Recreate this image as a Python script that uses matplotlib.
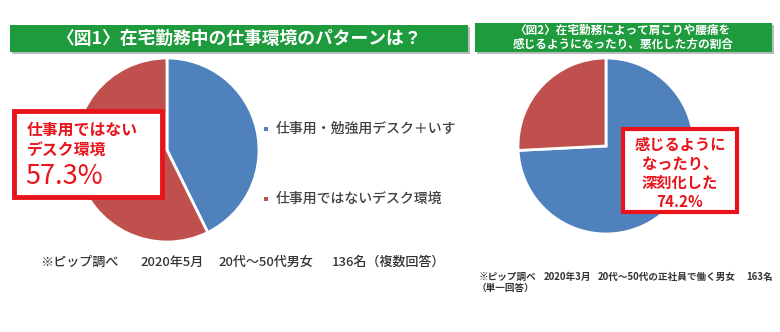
import matplotlib
matplotlib.use("Agg")
import matplotlib.pyplot as plt
from matplotlib.patches import Rectangle

plt.rcParams['font.family'] = ['Noto Sans CJK JP', 'DejaVu Sans']

# data
fig1_labels = ["仕事用・勉強用デスク＋いす", "仕事用ではないデスク環境"]
fig1_values = [42.7, 57.3]
fig2_labels = ["感じるようになったり、深刻化した", "その他"]
fig2_values = [74.2, 25.8]

fig1_title = "〈図1〉在宅勤務中の仕事環境のパターンは？"
fig2_title = "〈図2〉在宅勤務によって肩こりや腰痛を\n感じるようになったり、悪化した方の割合"
fig1_note = ["※ピップ調べ", "2020年5月", "20代～50代男女", "136名（複数回答）"]
fig2_note = ["※ピップ調べ", "2020年3月", "20代～50代の正社員で働く男女", "163名"]
fig2_note2 = "（単一回答）"

blue = "#4F81BD"
red = "#C0504D"
green = "#1E9B3C"
box_red = "#E8141C"

W, H = 780, 332
fig = plt.figure(figsize=(W / 100, H / 100), dpi=100)
fig.patch.set_facecolor("white")


def px_box(x0, y0, x1, y1):
    # pixel box (top-left origin) -> figure fractions
    return [x0 / W, 1 - y1 / H, (x1 - x0) / W, (y1 - y0) / H]


def rect(x0, y0, x1, y1, **kw):
    l, b, w, h = px_box(x0, y0, x1, y1)
    r = Rectangle((l, b), w, h, transform=fig.transFigure, **kw)
    fig.patches.append(r)


def txt(x, y, s, **kw):
    fig.text(x / W, 1 - y / H, s, **kw)


#title bars
rect(12, 27, 470, 54, facecolor="#bbbbbb", edgecolor="none")
rect(10, 25, 468, 52, facecolor=green, edgecolor="none")
txt(239, 39, fig1_title, color="white", fontsize=12.8, fontweight="bold", ha="center", va="center")

rect(477, 25, 774, 54, facecolor="#bbbbbb", edgecolor="none")
rect(475, 23, 772, 52, facecolor=green, edgecolor="none")
txt(623, 37.5, fig2_title, color="white", fontsize=8.4, fontweight="bold", ha="center", va="center",
    linespacing=1.15)

#pie 1
ax1 = fig.add_axes(px_box(75, 58, 259, 242))
ax1.pie(fig1_values, colors=[blue, red], startangle=90, counterclock=False,
        wedgeprops=dict(edgecolor="white", linewidth=2))
ax1.set_xlim(-1.0, 1.0)
ax1.set_ylim(-1.0, 1.0)
ax1.set_axis_off()

#pie 2
ax2 = fig.add_axes(px_box(518, 58, 694, 234))
ax2.pie(fig2_values, colors=[blue, red], startangle=90, counterclock=False,
        wedgeprops=dict(edgecolor="white", linewidth=2))
ax2.set_xlim(-1.0, 1.0)
ax2.set_ylim(-1.0, 1.0)
ax2.set_axis_off()

#legend for figure 1
for i, (lab, col) in enumerate(zip(fig1_labels, [blue, red])):
    y = 129 + i * 70
    rect(264, y - 2, 268, y + 2, facecolor=col, edgecolor="none")
    txt(276, y, lab, color="#404040", fontsize=10, fontweight="medium", va="center")

#annotation box 1
rect(14, 111, 162, 197, facecolor="white", edgecolor=box_red, linewidth=3.5)
txt(27, 130, "仕事用ではない", color=box_red, fontsize=11.4, fontweight="bold", va="center")
txt(27, 150, "デスク環境", color=box_red, fontsize=11.4, fontweight="bold", va="center")
txt(25, 177, "{:.1f}%".format(fig1_values[1]), color=box_red, fontsize=19.5, va="center")

#annotation box 2
rect(623, 129, 737, 212, facecolor="white", edgecolor=box_red, linewidth=3)
lines2 = ["感じるように", "なったり、", "深刻化した", "{:.1f}%".format(fig2_values[0])]
for i, s in enumerate(lines2):
    txt(680, 145 + i * 19, s, color=box_red, fontsize=11, fontweight="bold", ha="center", va="center")

#footnotes, pieces placed where they sit in the original
for x, s in zip([40, 140, 218, 332], fig1_note):
    txt(x, 262, s, color="#333333", fontsize=9.4, fontweight="medium", va="center")
for x, s in zip([479, 544, 598, 746], fig2_note):
    txt(x, 277, s, color="#333333", fontsize=6.9, fontweight="bold", va="center")
txt(477, 288, fig2_note2, color="#333333", fontsize=6.9, fontweight="bold", va="center")

fig.savefig("out.png", dpi=100)
